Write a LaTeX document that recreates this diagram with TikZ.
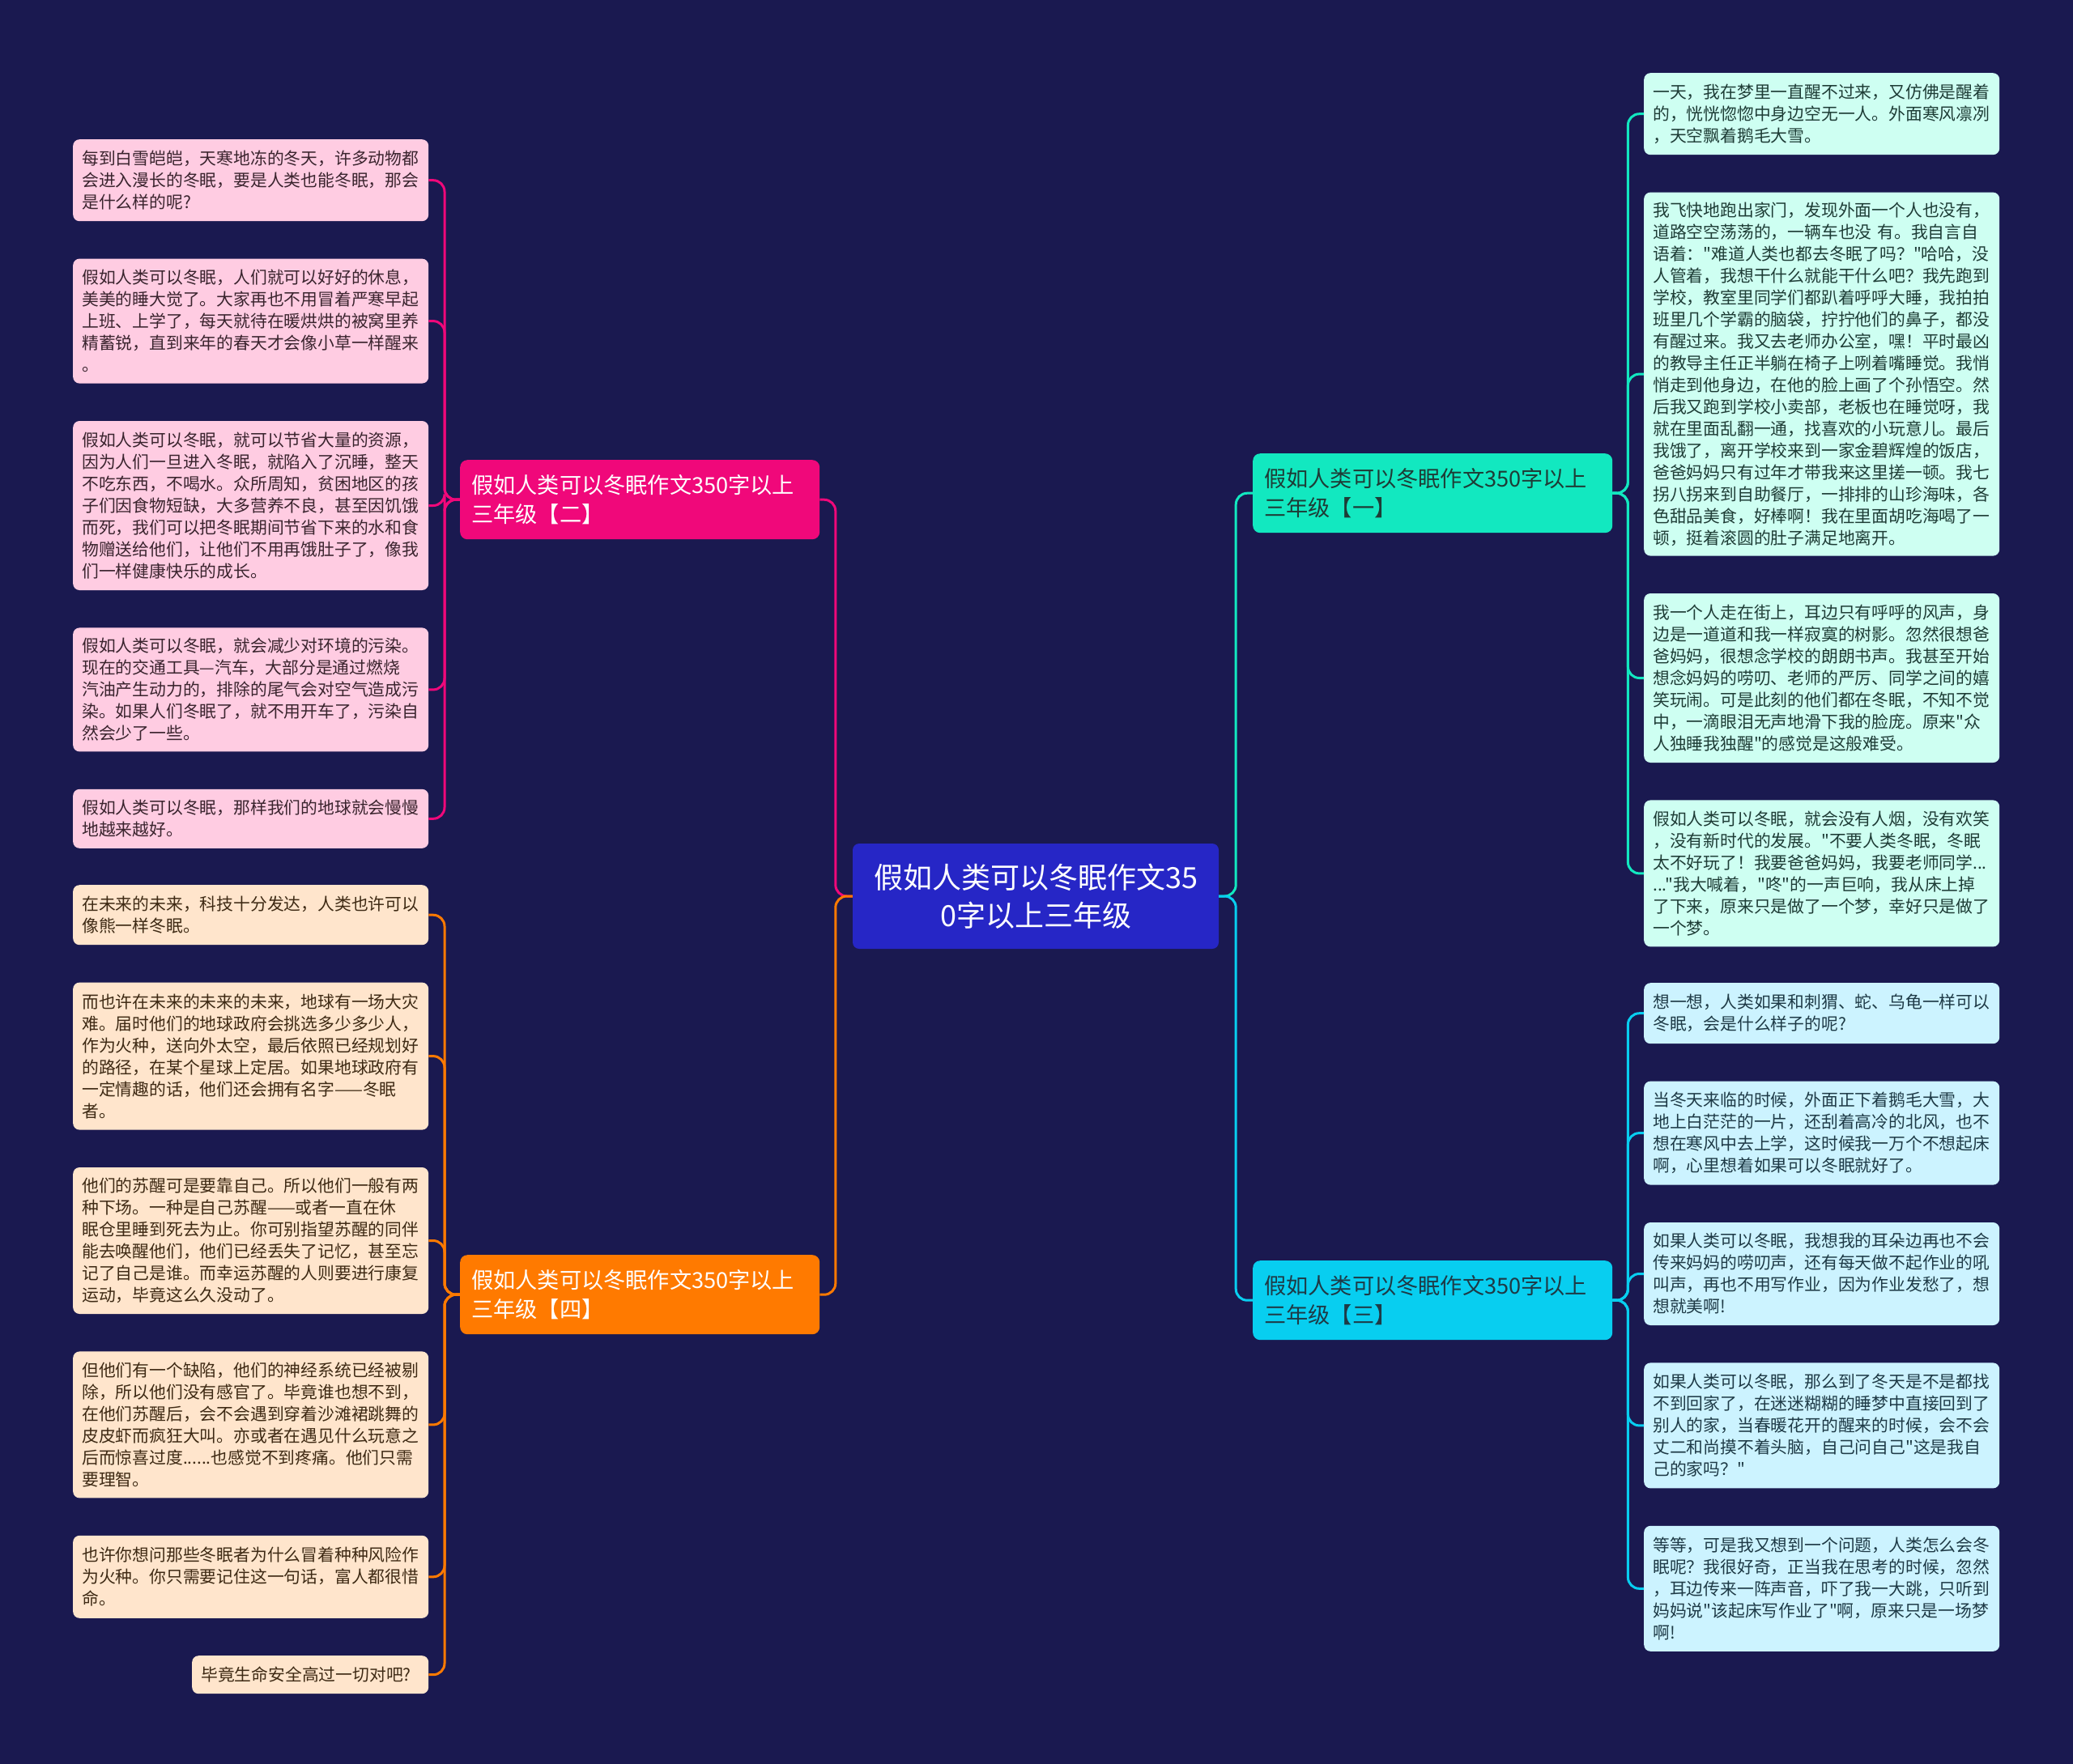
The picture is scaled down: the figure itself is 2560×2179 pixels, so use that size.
\documentclass[tikz,border=0pt]{standalone}
\usepackage{fontspec}
\setmainfont{Noto Sans CJK SC}[Ligatures=TeXOff]
\usetikzlibrary{positioning}
\definecolor{Bg}{RGB}{26,25,80}
\definecolor{Root}{RGB}{38,38,198}
\definecolor{Pink}{RGB}{240,8,122}
\definecolor{Orange}{RGB}{255,122,0}
\definecolor{Teal}{RGB}{18,232,192}
\definecolor{Cyan}{RGB}{8,206,240}
\definecolor{PinkL}{RGB}{255,204,226}
\definecolor{OrangeL}{RGB}{255,229,204}
\definecolor{TealL}{RGB}{206,255,242}
\definecolor{CyanL}{RGB}{204,243,255}
\definecolor{PinkT}{RGB}{58,36,46}
\definecolor{OrangeT}{RGB}{62,42,20}
\definecolor{TealT}{RGB}{30,60,54}
\definecolor{CyanT}{RGB}{30,58,70}

\begin{document}
\begin{tikzpicture}[x=1pt,y=-1pt,node distance=46pt,
 hub/.style={rounded corners=8,fill=Root,text=white,align=center,minimum width=452,minimum height=130,font=\fontsize{36}{47}\selectfont},
 br/.style={anchor=north west,rounded corners=9,minimum height=98,text width=416,inner xsep=14,align=left,font=\fontsize{27.2}{36}\selectfont},
 lf/.style={anchor=north west,rounded corners=8,text width=417,inner xsep=11,align=left,font=\fontsize{20.8}{27}\selectfont},
 pl/.style={lf,fill=PinkL,text=PinkT},
 ol/.style={lf,fill=OrangeL,text=OrangeT},
 tl/.style={lf,fill=TealL,text=TealT},
 cl/.style={lf,fill=CyanL,text=CyanT},
 ln/.style={line width=3pt,rounded corners=14}]
\fill[Bg] (0,0) rectangle (2560,2179);
\node[hub] (root) at (1279,1107) {假如人类可以冬眠作文35\\0字以上三年级};
\node[br,fill=Pink,text=white] (b2) at (568,568) {假如人类可以冬眠作文350字以上\\三年级【二】};
\node[br,fill=Orange,text=white] (b4) at (568,1550) {假如人类可以冬眠作文350字以上\\三年级【四】};
\node[br,fill=Teal,text=TealT] (b1) at (1547,560) {假如人类可以冬眠作文350字以上\\三年级【一】};
\node[br,fill=Cyan,text=CyanT] (b3) at (1547,1557) {假如人类可以冬眠作文350字以上\\三年级【三】};

\node[pl,minimum height=101] (p1) at (90,172) {每到白雪皑皑，天寒地冻的冬天，许多动物都\\会进入漫长的冬眠，要是人类也能冬眠，那会\\是什么样的呢?};
\node[pl,minimum height=154,below=of p1] (p2) {假如人类可以冬眠，人们就可以好好的休息，\\美美的睡大觉了。大家再也不用冒着严寒早起\\上班、上学了，每天就待在暖烘烘的被窝里养\\精蓄锐，直到来年的春天才会像小草一样醒来\\。};
\node[pl,minimum height=209,below=of p2] (p3) {假如人类可以冬眠，就可以节省大量的资源，\\因为人们一旦进入冬眠，就陷入了沉睡，整天\\不吃东西，不喝水。众所周知，贫困地区的孩\\子们因食物短缺，大多营养不良，甚至因饥饿\\而死，我们可以把冬眠期间节省下来的水和食\\物赠送给他们，让他们不用再饿肚子了，像我\\们一样健康快乐的成长。};
\node[pl,minimum height=153,below=of p3] (p4) {假如人类可以冬眠，就会减少对环境的污染。\\现在的交通工具—汽车，大部分是通过燃烧\\汽油产生动力的，排除的尾气会对空气造成污\\染。如果人们冬眠了，就不用开车了，污染自\\然会少了一些。};
\node[pl,minimum height=73,below=of p4] (p5) {假如人类可以冬眠，那样我们的地球就会慢慢\\地越来越好。};

\node[ol,minimum height=74] (o1) at (90,1093) {在未来的未来，科技十分发达，人类也许可以\\像熊一样冬眠。};
\node[ol,minimum height=182,below=of o1] (o2) {而也许在未来的未来的未来，地球有一场大灾\\难。届时他们的地球政府会挑选多少多少人，\\作为火种，送向外太空，最后依照已经规划好\\的路径，在某个星球上定居。如果地球政府有\\一定情趣的话，他们还会拥有名字——冬眠\\者。};
\node[ol,minimum height=181,below=of o2] (o3) {他们的苏醒可是要靠自己。所以他们一般有两\\种下场。一种是自己苏醒——或者一直在休\\眠仓里睡到死去为止。你可别指望苏醒的同伴\\能去唤醒他们，他们已经丢失了记忆，甚至忘\\记了自己是谁。而幸运苏醒的人则要进行康复\\运动，毕竟这么久没动了。};
\node[ol,minimum height=181,below=of o3] (o4) {但他们有一个缺陷，他们的神经系统已经被剔\\除，所以他们没有感官了。毕竟谁也想不到，\\在他们苏醒后，会不会遇到穿着沙滩裙跳舞的\\皮皮虾而疯狂大叫。亦或者在遇见什么玩意之\\后而惊喜过度......也感觉不到疼痛。他们只需\\要理智。};
\node[ol,minimum height=102,below=of o4] (o5) {也许你想问那些冬眠者为什么冒着种种风险作\\为火种。你只需要记住这一句话，富人都很惜\\命。};
\node[ol,text width=270,minimum height=47,below=of o5.south east,anchor=north east] (o6) {毕竟生命安全高过一切对吧?};

\node[tl,minimum height=101] (t1) at (2030,90) {一天，我在梦里一直醒不过来，又仿佛是醒着\\的，恍恍惚惚中身边空无一人。外面寒风凛冽\\，天空飘着鹅毛大雪。};
\node[tl,minimum height=449,below=of t1] (t2) {我飞快地跑出家门，发现外面一个人也没有，\\道路空空荡荡的，一辆车也没 有。我自言自\\语着："难道人类也都去冬眠了吗？"哈哈，没\\人管着，我想干什么就能干什么吧？我先跑到\\学校，教室里同学们都趴着呼呼大睡，我拍拍\\班里几个学霸的脑袋，拧拧他们的鼻子，都没\\有醒过来。我又去老师办公室，嘿！平时最凶\\的教导主任正半躺在椅子上咧着嘴睡觉。我悄\\悄走到他身边，在他的脸上画了个孙悟空。然\\后我又跑到学校小卖部，老板也在睡觉呀，我\\就在里面乱翻一通，找喜欢的小玩意儿。最后\\我饿了，离开学校来到一家金碧辉煌的饭店，\\爸爸妈妈只有过年才带我来这里搓一顿。我七\\拐八拐来到自助餐厅，一排排的山珍海味，各\\色甜品美食，好棒啊！我在里面胡吃海喝了一\\顿，挺着滚圆的肚子满足地离开。};
\node[tl,minimum height=209,below=of t2] (t3) {我一个人走在街上，耳边只有呼呼的风声，身\\边是一道道和我一样寂寞的树影。忽然很想爸\\爸妈妈，很想念学校的朗朗书声。我甚至开始\\想念妈妈的唠叨、老师的严厉、同学之间的嬉\\笑玩闹。可是此刻的他们都在冬眠，不知不觉\\中，一滴眼泪无声地滑下我的脸庞。原来"众\\人独睡我独醒"的感觉是这般难受。};
\node[tl,minimum height=181,below=of t3] (t4) {假如人类可以冬眠，就会没有人烟，没有欢笑\\，没有新时代的发展。"不要人类冬眠，冬眠\\太不好玩了！我要爸爸妈妈，我要老师同学...\\..."我大喊着，"咚"的一声巨响，我从床上掉\\了下来，原来只是做了一个梦，幸好只是做了\\一个梦。};

\node[cl,minimum height=75] (c1) at (2030,1214) {想一想，人类如果和刺猬、蛇、乌龟一样可以\\冬眠，会是什么样子的呢?};
\node[cl,minimum height=128,below=of c1] (c2) {当冬天来临的时候，外面正下着鹅毛大雪，大\\地上白茫茫的一片，还刮着高冷的北风，也不\\想在寒风中去上学，这时候我一万个不想起床\\啊，心里想着如果可以冬眠就好了。};
\node[cl,minimum height=127,below=of c2] (c3) {如果人类可以冬眠，我想我的耳朵边再也不会\\传来妈妈的唠叨声，还有每天做不起作业的吼\\叫声，再也不用写作业，因为作业发愁了，想\\想就美啊!};
\node[cl,minimum height=155,below=of c3] (c4) {如果人类可以冬眠，那么到了冬天是不是都找\\不到回家了，在迷迷糊糊的睡梦中直接回到了\\别人的家，当春暖花开的醒来的时候，会不会\\丈二和尚摸不着头脑，自己问自己"这是我自\\己的家吗？"};
\node[cl,minimum height=155,below=of c4] (c5) {等等，可是我又想到一个问题，人类怎么会冬\\眠呢？我很好奇，正当我在思考的时候，忽然\\，耳边传来一阵声音，吓了我一大跳，只听到\\妈妈说"该起床写作业了"啊，原来只是一场梦\\啊!};

\draw[ln,Pink] (root.west) -- ++(-21,0) |- (b2.east);\draw[ln,Orange] (root.west) -- ++(-21,0) |- (b4.east);
\draw[ln,Teal] (root.east) -- ++(21,0) |- (b1.west);\draw[ln,Cyan] (root.east) -- ++(21,0) |- (b3.west);
\draw[ln,Pink] (b2.west) -- ++(-19,0) |- (p1.east);\draw[ln,Pink] (b2.west) -- ++(-19,0) |- (p2.east);\draw[ln,Pink] (b2.west) -- ++(-19,0) |- (p3.east);
\draw[ln,Pink] (b2.west) -- ++(-19,0) |- (p4.east);\draw[ln,Pink] (b2.west) -- ++(-19,0) |- (p5.east);
\draw[ln,Orange] (b4.west) -- ++(-19,0) |- (o1.east);\draw[ln,Orange] (b4.west) -- ++(-19,0) |- (o2.east);\draw[ln,Orange] (b4.west) -- ++(-19,0) |- (o3.east);
\draw[ln,Orange] (b4.west) -- ++(-19,0) |- (o4.east);\draw[ln,Orange] (b4.west) -- ++(-19,0) |- (o5.east);\draw[ln,Orange] (b4.west) -- ++(-19,0) |- (o6.east);
\draw[ln,Teal] (b1.east) -- ++(19,0) |- (t1.west);\draw[ln,Teal] (b1.east) -- ++(19,0) |- (t2.west);\draw[ln,Teal] (b1.east) -- ++(19,0) |- (t3.west);
\draw[ln,Teal] (b1.east) -- ++(19,0) |- (t4.west);
\draw[ln,Cyan] (b3.east) -- ++(19,0) |- (c1.west);\draw[ln,Cyan] (b3.east) -- ++(19,0) |- (c2.west);\draw[ln,Cyan] (b3.east) -- ++(19,0) |- (c3.west);
\draw[ln,Cyan] (b3.east) -- ++(19,0) |- (c4.west);\draw[ln,Cyan] (b3.east) -- ++(19,0) |- (c5.west);
\end{tikzpicture}
\end{document}
